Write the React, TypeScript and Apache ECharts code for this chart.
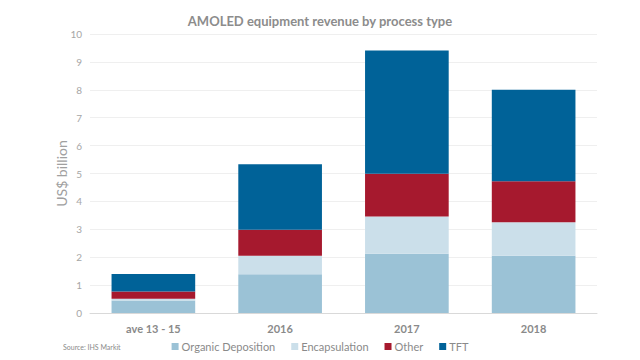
import React, { useEffect, useRef } from "react";
import * as echarts from "echarts";

const categories = ["ave 13 - 15", "2016", "2017", "2018"];
const organicDeposition = [0.45, 1.39, 2.12, 2.05];
const encapsulation = [0.06, 0.66, 1.34, 1.2];
const other = [0.26, 0.93, 1.53, 1.47];
const tft = [0.63, 2.35, 4.42, 3.28];
const yTicks = { min: 0, max: 10, interval: 1 };

const FONT = "Lato, 'Open Sans', sans-serif";

export default function App() {
  const ref = useRef<HTMLDivElement>(null);
  useEffect(() => {
    if (!ref.current) return;
    const chart = echarts.init(ref.current, null, { renderer: "svg" });
    const mk = (name: string, data: number[], color: string) => ({
      name,
      type: "bar",
      stack: "total",
      data,
      barWidth: "66%",
      itemStyle: { color },
      emphasis: { disabled: true },
    });
    chart.setOption({
      animation: false,
      textStyle: { fontFamily: FONT },
      title: {
        text: "AMOLED equipment revenue by process type",
        left: "center",
        top: 9,
        textStyle: { fontSize: 13, fontWeight: "bold", color: "#8c8c8c", fontFamily: FONT },
      },
      grid: { left: 90, right: 43, top: 34, bottom: 47, containLabel: false },
      legend: {
        bottom: 3,
        left: "center",
        itemWidth: 7,
        itemHeight: 7,
        itemGap: 16,
        icon: "rect",
        textStyle: { fontSize: 11, color: "#8a8a8a", fontFamily: FONT, padding: [0, 0, 0, -2] },
        data: ["Organic Deposition", "Encapsulation", "Other", "TFT"],
      },
      xAxis: {
        type: "category",
        data: categories,
        axisTick: { show: false },
        axisLine: { lineStyle: { color: "#d9d9d9" } },
        axisLabel: { fontSize: 11, fontWeight: "bold", color: "#8a8a8a", margin: 10 },
      },
      yAxis: {
        type: "value",
        min: yTicks.min,
        max: yTicks.max,
        interval: yTicks.interval,
        name: "US$ billion",
        nameLocation: "middle",
        nameGap: 22,
        nameMoveOverlap: false,
        nameTextStyle: { fontSize: 14, color: "#a0a0a0", fontFamily: FONT },
        axisLabel: { fontSize: 10, color: "#a6a6a6", margin: 8 },
        splitLine: { lineStyle: { color: "#efefef" } },
        axisLine: { show: false },
        axisTick: { show: false },
      },
      graphic: [
        {
          type: "text",
          left: 63,
          top: 343,
          style: { text: "Source: IHS Markit", fontSize: 7, fill: "#8a8a8a", fontFamily: FONT },
        },
      ],
      series: [
        mk("Organic Deposition", organicDeposition, "#9bc2d6"),
        mk("Encapsulation", encapsulation, "#cbdfea"),
        mk("Other", other, "#a6192e"),
        mk("TFT", tft, "#006298"),
      ],
    });
    return () => chart.dispose();
  }, []);
  return <div ref={ref} style={{ width: 640, height: 360, position: "fixed", left: 0, top: 0, background: "#fff" }} />;
}
